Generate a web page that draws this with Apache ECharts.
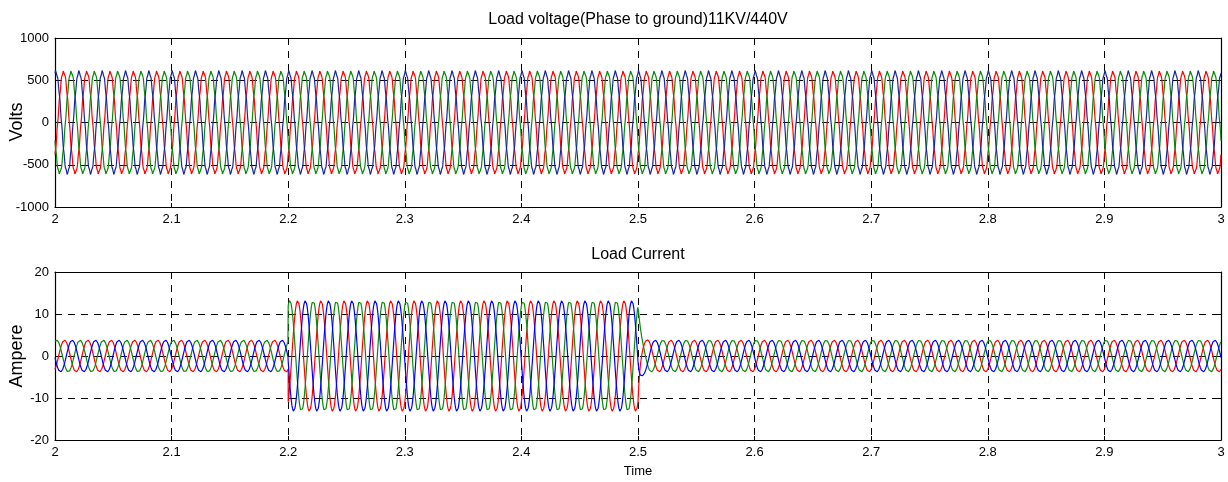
<!DOCTYPE html>
<html>
<head>
<meta charset="utf-8">
<script src="https://cdn.jsdelivr.net/npm/echarts@6/dist/echarts.min.js"></script>
<style>
  html, body { margin: 0; padding: 0; background: #fff; }
  #chart { width: 1228px; height: 482px; }
</style>
</head>
<body>
<div id="chart"></div>
<script>
// Time window (s) and tick labels
const timeRange = [2, 3];
const timeTicks = [2, 2.1, 2.2, 2.3, 2.4, 2.5, 2.6, 2.7, 2.8, 2.9, 3];
const voltageTicks = [-1000, -500, 0, 500, 1000];
const currentTicks = [-20, -10, 0, 10, 20];

// Supply frequency (Hz) and sample step (s)
const supplyFrequency = [50];
const sampleStep = [0.0002];

// Phase order of the traces: red, green, blue
const phaseLabels = ['Phase A', 'Phase B', 'Phase C'];

// Load voltage: peak value (V) and time of first crest after 2 s for each phase
const voltagePeaks = [620, 620, 620];
const voltageCrestTimes = [2.0073, 2.0139, 2.0006];
// Switching ripple on the voltage: harmonic order and relative size
const voltageRipple = [11, 0.03];

// Load current: step instants (s), peak value in each interval (A)
const currentSteps = [2.0, 2.2, 2.5, 3.0];
const currentPeaks = [3.8, 13.2, 3.8];
// Settling time constant after the extra load is removed (s)
const currentSettling = [0.0018];
// Time of first crest after 2 s for each phase
const currentCrestTimes = [2.0081, 2.0014, 2.0147];

const voltageColors = ['#ff0000', '#0a8a0a', '#18289a'];
const currentColors = ['#ff0000', '#0a8a0a', '#0000ff'];

const omega = 2 * Math.PI * supplyFrequency[0];
const nSamples = Math.round((timeRange[1] - timeRange[0]) / sampleStep[0]);

function voltageTrace(k) {
  const pts = [];
  for (let i = 0; i <= nSamples; i++) {
    const t = timeRange[0] + i * sampleStep[0];
    const th = omega * (t - voltageCrestTimes[k]);
    const v = voltagePeaks[k] * (Math.cos(th) + voltageRipple[1] * Math.cos(voltageRipple[0] * th)) / (1 + voltageRipple[1]);
    pts.push([t, v]);
  }
  return pts;
}

function currentEnvelope(t) {
  if (t < currentSteps[1]) return currentPeaks[0];
  if (t < currentSteps[2]) return currentPeaks[1];
  return currentPeaks[2] + (currentPeaks[1] - currentPeaks[2]) * Math.exp(-(t - currentSteps[2]) / currentSettling[0]);
}

function currentTrace(k) {
  const pts = [];
  const wave = t => Math.cos(omega * (t - currentCrestTimes[k]));
  for (let i = 0; i <= nSamples; i++) {
    const t = timeRange[0] + i * sampleStep[0];
    // vertical edge at the load switch-on instant
    if (Math.abs(t - currentSteps[1]) < sampleStep[0] / 2) {
      pts.push([t, currentPeaks[0] * wave(t)]);
    }
    pts.push([t, currentEnvelope(t) * wave(t)]);
  }
  return pts;
}

const FONT = '"Liberation Sans", Arial, Helvetica, sans-serif';
const dash = { color: '#000', width: 1, type: [7, 6] };
const tickFmt = v => String(Math.round(v * 10) / 10);

const grids = [
  { left: 55, right: 7, top: 38, height: 169 },
  { left: 55, right: 7, top: 272, height: 168 }
];

function xAxes(gi, showLabels) {
  return [
    {
      type: 'value', gridIndex: gi, min: timeRange[0], max: timeRange[1], interval: 0.1,
      axisLine: { show: true, onZero: false, lineStyle: { color: '#000', width: 1.2 } },
      axisTick: { show: true, inside: true, length: 4, lineStyle: { color: '#000' } },
      axisLabel: { show: showLabels, color: '#000', fontFamily: FONT, fontSize: 13, margin: 6, formatter: tickFmt },
      splitLine: { show: true, lineStyle: dash }
    },
    {
      type: 'value', gridIndex: gi, position: 'top', min: timeRange[0], max: timeRange[1], interval: 0.1,
      axisLine: { show: true, onZero: false, lineStyle: { color: '#000', width: 1.2 } },
      axisTick: { show: true, inside: true, length: 4, lineStyle: { color: '#000' } },
      axisLabel: { show: false },
      splitLine: { show: false }
    }
  ];
}

function yAxes(gi, ticks) {
  const step = ticks[1] - ticks[0];
  return [
    {
      type: 'value', gridIndex: gi, min: ticks[0], max: ticks[ticks.length - 1], interval: step,
      axisLine: { show: true, onZero: false, lineStyle: { color: '#000', width: 1.2 } },
      axisTick: { show: true, inside: true, length: 4, lineStyle: { color: '#000' } },
      axisLabel: { color: '#000', fontFamily: FONT, fontSize: 13, margin: 6, formatter: v => String(v) },
      splitLine: { show: true, lineStyle: dash }
    },
    {
      type: 'value', gridIndex: gi, position: 'right', min: ticks[0], max: ticks[ticks.length - 1], interval: step,
      axisLine: { show: true, onZero: false, lineStyle: { color: '#000', width: 1.2 } },
      axisTick: { show: true, inside: true, length: 4, lineStyle: { color: '#000' } },
      axisLabel: { show: false },
      splitLine: { show: false }
    }
  ];
}

const series = [];
for (let k = 0; k < 3; k++) {
  series.push({
    name: 'V ' + phaseLabels[k], type: 'line', xAxisIndex: 0, yAxisIndex: 0,
    data: voltageTrace(k), showSymbol: false, symbol: 'none', sampling: false,
    lineStyle: { color: voltageColors[k], width: 1.2 }, silent: true
  });
}
for (let k = 0; k < 3; k++) {
  series.push({
    name: 'I ' + phaseLabels[k], type: 'line', xAxisIndex: 2, yAxisIndex: 2,
    data: currentTrace(k), showSymbol: false, symbol: 'none', sampling: false,
    lineStyle: { color: currentColors[k], width: 1.2 }, silent: true
  });
}

const textStyle = (size) => ({ fill: '#000', font: size + 'px ' + FONT, align: 'center', verticalAlign: 'middle' });

const chart = echarts.init(document.getElementById('chart'), null, { renderer: 'canvas' });
chart.setOption({
  animation: false,
  backgroundColor: '#fff',
  grid: grids,
  xAxis: [...xAxes(0, true), ...xAxes(1, true)],
  yAxis: [...yAxes(0, voltageTicks), ...yAxes(1, currentTicks)],
  series: series,
  graphic: [
    { type: 'text', x: 638, y: 20, style: Object.assign({ text: 'Load voltage(Phase to ground)11KV/440V' }, textStyle(16)) },
    { type: 'text', x: 638, y: 255, style: Object.assign({ text: 'Load Current' }, textStyle(16)) },
    { type: 'text', x: 638, y: 471, style: Object.assign({ text: 'Time' }, textStyle(13)) },
    { type: 'text', x: 17, y: 122, rotation: Math.PI / 2, style: Object.assign({ text: 'Volts' }, textStyle(18)) },
    { type: 'text', x: 17, y: 356, rotation: Math.PI / 2, style: Object.assign({ text: 'Ampere' }, textStyle(18)) }
  ]
});
</script>
</body>
</html>
